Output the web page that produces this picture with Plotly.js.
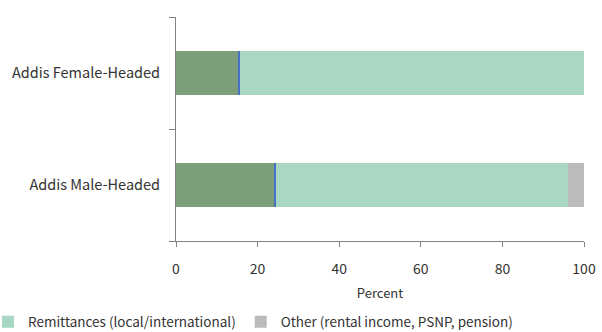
<!DOCTYPE html>
<html>
<head>
<meta charset="utf-8">
<script src="https://cdn.plot.ly/plotly-3.0.1.min.js"></script>
<style>html,body{margin:0;padding:0;background:#fff;}#chart{width:602px;height:332px;}</style>
</head>
<body>
<div id="chart"></div>
<script>
const categories = ['Addis Male-Headed', 'Addis Female-Headed'];
const wages = [23.9, 15.1];
const business = [0.6, 0.7];
const remittances = [71.5, 84.2];
const other = [4.0, 0];
const xTicks = [0, 20, 40, 60, 80, 100];

const FONT = '"Noto Sans CJK SC", "Source Sans Pro", "Noto Sans", sans-serif';

const traces = [
  {name: 'Wages/salary', x: wages, y: categories, type: 'bar', orientation: 'h',
   marker: {color: 'rgb(124,158,122)'}, showlegend: false},
  {name: 'Own business', x: business, y: categories, type: 'bar', orientation: 'h',
   marker: {color: 'rgb(68,114,196)'}, showlegend: false},
  {name: 'Remittances (local/international)', x: remittances, y: categories, type: 'bar', orientation: 'h',
   marker: {color: 'rgb(168,216,196)'}},
  {name: 'Other (rental income, PSNP, pension)', x: other, y: categories, type: 'bar', orientation: 'h',
   marker: {color: 'rgb(187,187,187)'}}
];

const layout = {
  width: 602, height: 332,
  margin: {l: 176, r: 18, t: 17, b: 91, pad: 0, autoexpand: false},
  barmode: 'stack',
  bargap: 0.6,
  paper_bgcolor: '#fff', plot_bgcolor: '#fff',
  font: {family: FONT, size: 13, color: '#333'},
  xaxis: {
    range: [0, 100], tickvals: xTicks, ticks: 'outside', ticklen: 5, tickcolor: '#808080',
    showline: true, linecolor: '#808080', linewidth: 1, showgrid: false, zeroline: false,
    tickfont: {size: 14, color: '#333'}, ticklabelstandoff: 10,
    title: {text: 'Percent', font: {size: 13, color: '#333'}, standoff: 12}
  },
  yaxis: {
    type: 'category', categoryorder: 'array', categoryarray: categories,
    range: [-0.5, 1.5],
    ticks: 'outside', tickson: 'boundaries', ticklen: 6, tickcolor: '#808080',
    showline: true, linecolor: '#808080', linewidth: 1, showgrid: false,
    tickfont: {size: 14.5, color: '#333'}, ticklabelstandoff: 12
  },
  legend: {
    orientation: 'h', xref: 'paper', yref: 'paper',
    x: -0.4608, xanchor: 'left', y: -0.3616, yanchor: 'middle',
    font: {size: 13.5, color: '#333'}, traceorder: 'normal'
  }
};

Plotly.newPlot('chart', traces, layout, {displayModeBar: false, staticPlot: true});
</script>
</body>
</html>
